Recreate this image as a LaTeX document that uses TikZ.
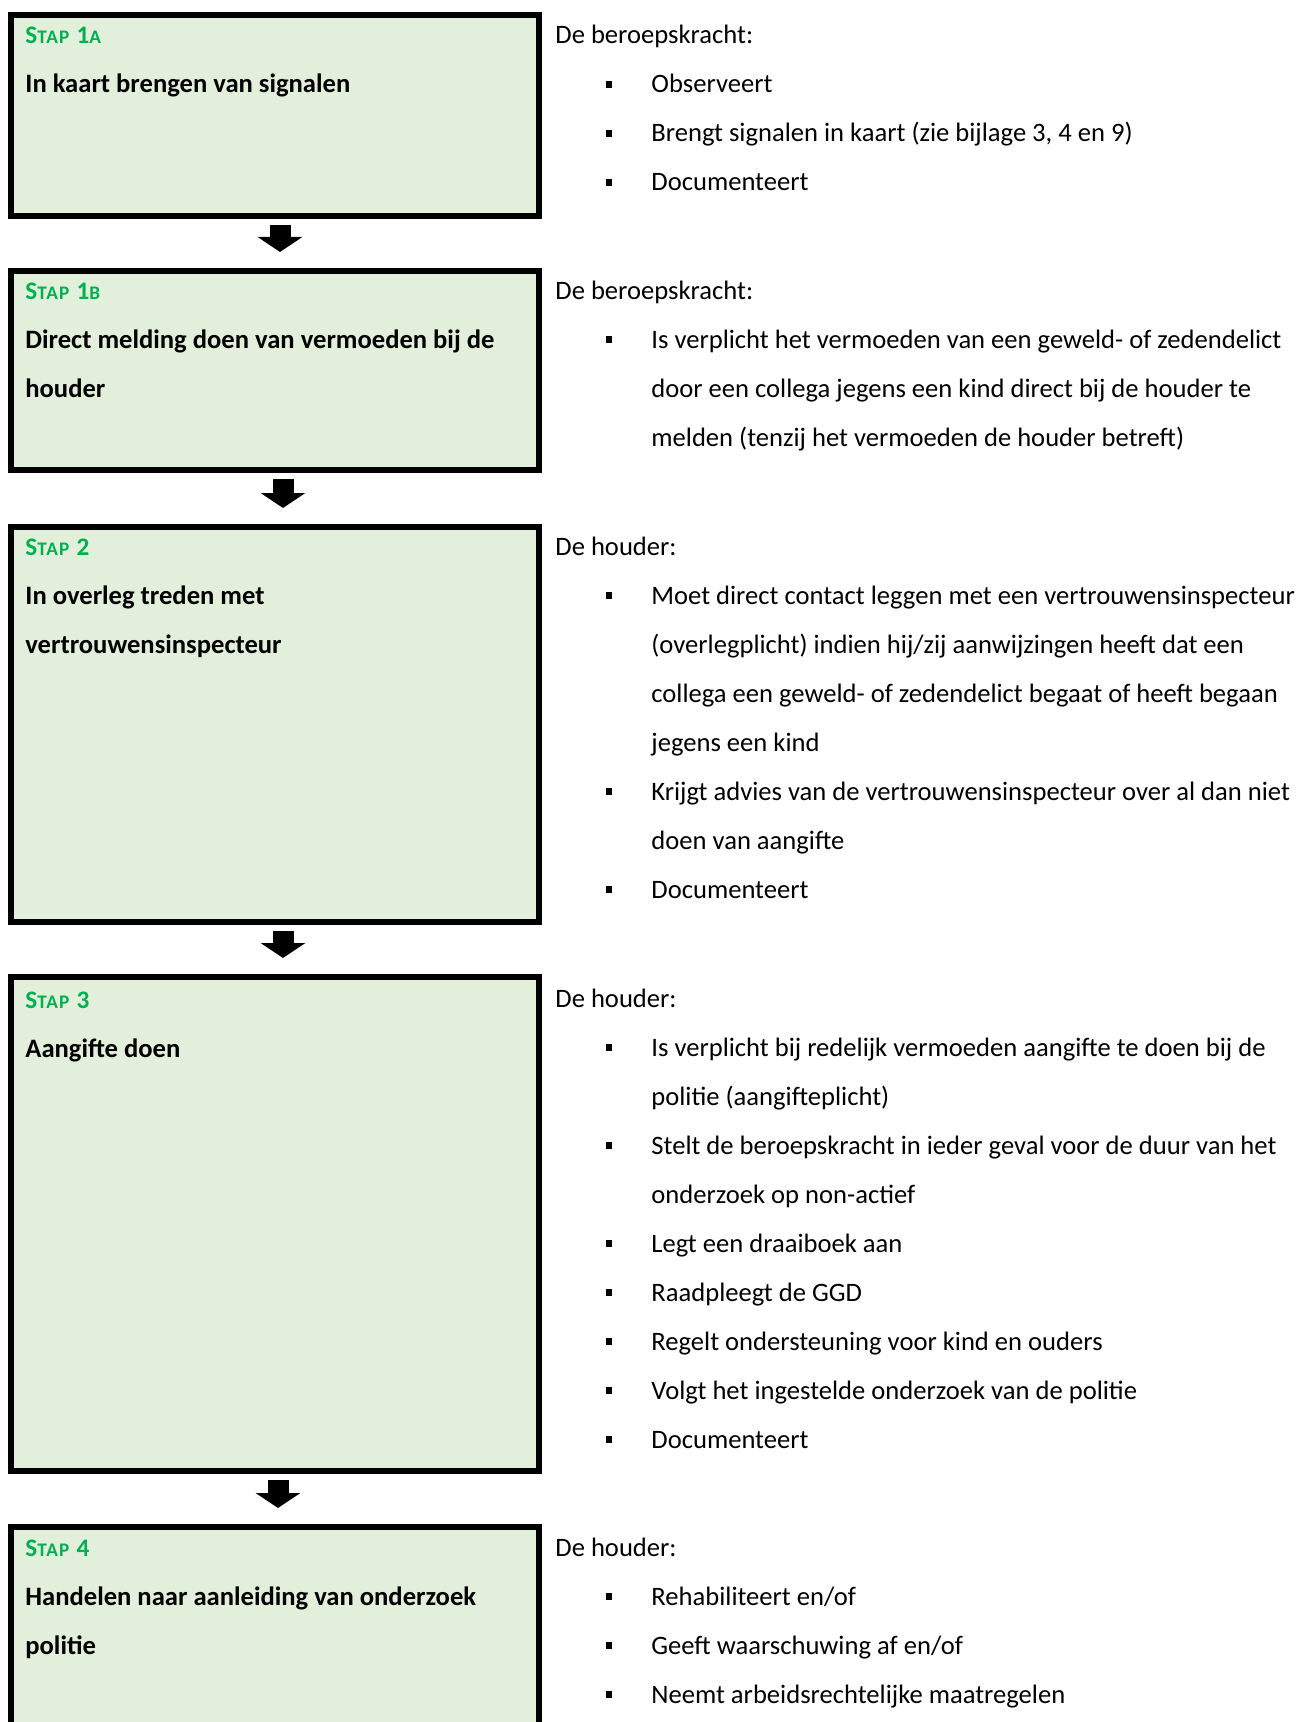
\documentclass[tikz,border=0pt]{standalone}
\usepackage{fontspec}
\setmainfont{Carlito}
\newfontfamily\stapfont[LetterSpace=6]{Carlito}
\usetikzlibrary{arrows.meta}
\definecolor{stapgreen}{RGB}{0,176,80}
\definecolor{stapfill}{RGB}{226,239,218}
\newcommand{\smc}{\fontsize{9.6}{24.5}\selectfont}
\newcommand{\stap}[2]{{\stapfont\bfseries\color{stapgreen}\fontsize{12.6}{24.5}\selectfont S{\smc TAP} #1{\smc #2}}}
\newcommand{\sq}{\rule[2.5pt]{3pt}{3.3pt}}
\newcommand{\itm}{\makebox[48pt][l]{\hspace{25.5pt}\sq}}
\newcommand{\cnt}{\hspace*{48pt}}

\begin{document}
\begin{tikzpicture}[x=0.5pt,y=-0.5pt,
  stapbox/.style={draw,line width=3pt,fill=stapfill,minimum width=264pt,inner sep=0pt},
  ltext/.style={anchor=base west,align=left,inner sep=0pt,font=\bfseries\fontsize{13.3}{24.5}\selectfont},
  rtext/.style={anchor=base west,align=left,inner sep=0pt,font=\fontsize{13.3}{24.5}\selectfont},
  blockarrow/.style={line width=10.5pt,-{Triangle[width=22pt,length=7.5pt]},shorten <=3pt,shorten >=8pt}]
  \clip (0,0) rectangle (1302,1722);
  % step boxes
  \node[stapbox,minimum height=100.5pt] (b1a) at (275,115.5) {};
  \node[stapbox,minimum height=99.5pt] (b1b) at (275,370.5) {};
  \node[stapbox,minimum height=197.5pt] (b2) at (275,724.5) {};
  \node[stapbox,minimum height=247pt] (b3) at (275,1224) {};
  \node[stapbox,minimum height=136.5pt] (b4) at (275,1663.5) {};
  % arrows between the steps
  \foreach \a/\b/\s in {b1a/b1b/5,b1b/b2/8,b2/b3/8,b3/b4/3}
    \draw[blockarrow] ([xshift=\s*0.5pt]\a.south) -- ([xshift=\s*0.5pt]\b.north);
  % left column (placed at the baseline of the last line)
  \node[ltext] (t1a) at (25,93) {\stap{1}{A}\\In kaart brengen van signalen};
  \node[ltext] (t1b) at (25,397) {\stap{1}{B}\\Direct melding doen van vermoeden bij de\\houder};
  \node[ltext] (t2) at (25,653) {\stap{2}{}\\In overleg treden met\\vertrouwensinspecteur};
  \node[ltext] (t3) at (25,1057) {\stap{3}{}\\Aangifte doen};
  \node[ltext] (t4) at (25,1654) {\stap{4}{}\\Handelen naar aanleiding van onderzoek\\politie};
  % right column
  \node[rtext] (r1a) at (555,191) {De beroepskracht:\\
    \itm Observeert\\
    \itm Brengt signalen in kaart (zie bijlage 3, 4 en 9)\\
    \itm Documenteert};
  \node[rtext] (r1b) at (555,446) {De beroepskracht:\\
    \itm Is verplicht het vermoeden van een geweld- of zedendelict\\
    \cnt door een collega jegens een kind direct bij de houder te\\
    \cnt melden (tenzij het vermoeden de houder betreft)};
  \node[rtext] (r2) at (555,898) {De houder:\\
    \itm Moet direct contact leggen met een vertrouwensinspecteur\\
    \cnt (overlegplicht) indien hij/zij aanwijzingen heeft dat een\\
    \cnt collega een geweld- of zedendelict begaat of heeft begaan\\
    \cnt jegens een kind\\
    \itm Krijgt advies van de vertrouwensinspecteur over al dan niet\\
    \cnt doen van aangifte\\
    \itm Documenteert};
  \node[rtext] (r3) at (555,1448) {De houder:\\
    \itm Is verplicht bij redelijk vermoeden aangifte te doen bij de\\
    \cnt politie (aangifteplicht)\\
    \itm Stelt de beroepskracht in ieder geval voor de duur van het\\
    \cnt onderzoek op non-actief\\
    \itm Legt een draaiboek aan\\
    \itm Raadpleegt de GGD\\
    \itm Regelt ondersteuning voor kind en ouders\\
    \itm Volgt het ingestelde onderzoek van de politie\\
    \itm Documenteert};
  \node[rtext] (r4) at (555,1703) {De houder:\\
    \itm Rehabiliteert en/of\\
    \itm Geeft waarschuwing af en/of\\
    \itm Neemt arbeidsrechtelijke maatregelen};
\end{tikzpicture}
\end{document}
